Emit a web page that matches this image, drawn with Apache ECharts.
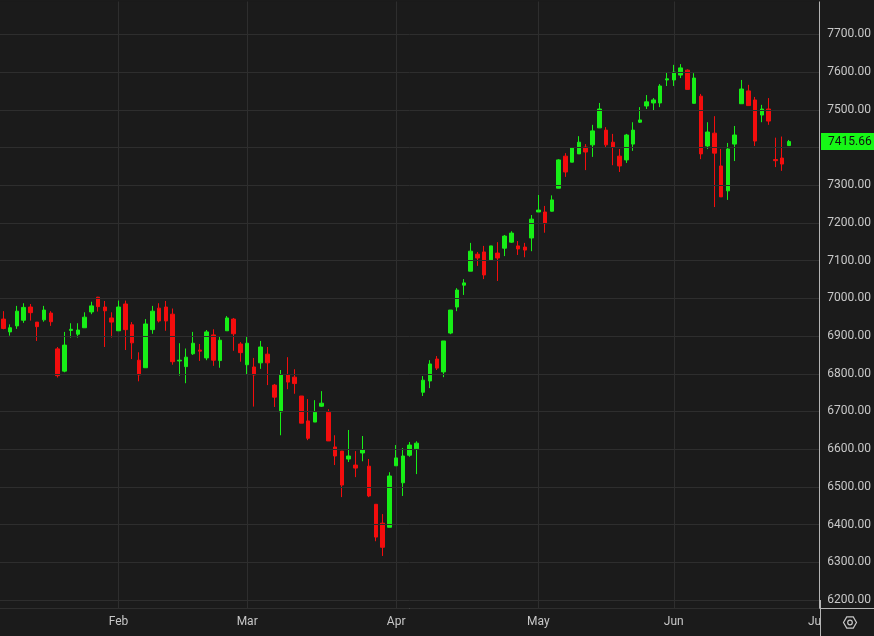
<!DOCTYPE html>
<html>
<head>
<meta charset="utf-8">
<script src="https://cdn.jsdelivr.net/npm/echarts@6/dist/echarts.min.js"></script>
<style>
  html, body { margin: 0; padding: 0; background: #1b1b1b; }
  #main { width: 874px; height: 636px; }
</style>
</head>
<body>
<div id="main"></div>
<script>
// 交易日数量（最后几个是空位）
const dayCount = 121
// 月份起始位置
const monthStart = [17, 36, 58, 79, 99, 120]
const monthNames = ['Feb', 'Mar', 'Apr', 'May', 'Jun', 'Jul']

// 开盘、收盘、最低、最高
const opens = [6945, 6911, 6927, 6942, 6977, 6937, 6943, 6961, 6866, 6807, 6915, 6905, 6922, 6964, 7003, 6977, 6948, 6914, 6985, 6930,
  6836, 6816, 6917, 6974, 6977, 6958, 6834, 6819, 6853, 6863, 6842, 6903, 6835, 6914, 6945, 6879, 6824, 6818, 6829, 6852,
  6770, 6699, 6797, 6791, 6741, 6675, 6672, 6714, 6698, 6606, 6595, 6574, 6558, 6590, 6555, 6454, 6404, 6393, 6556, 6511,
  6584, 6601, 6751, 6781, 6839, 6805, 6908, 6977, 7035, 7072, 7117, 7123, 7102, 7120, 7133, 7149, 7139, 7136, 7160, 7229,
  7229, 7231, 7292, 7377, 7361, 7383, 7401, 7407, 7452, 7446, 7414, 7377, 7367, 7409, 7467, 7510, 7518, 7518, 7579, 7579,
  7592, 7605, 7517, 7536, 7404, 7438, 7351, 7285, 7409, 7516, 7550, 7526, 7486, 7502, 7368, 7372, 7405]
const closes = [6920, 6922, 6966, 6976, 6962, 6925, 6969, 6938, 6795, 6876, 6918, 6916, 6950, 6980, 6978, 6967, 6937, 6977, 6917, 6882,
  6797, 6932, 6966, 6940, 6940, 6832, 6836, 6844, 6881, 6860, 6911, 6836, 6889, 6948, 6906, 6856, 6881, 6797, 6871, 6829,
  6738, 6797, 6778, 6774, 6669, 6629, 6698, 6722, 6622, 6582, 6505, 6582, 6550, 6598, 6476, 6367, 6340, 6529, 6577, 6582,
  6611, 6616, 6783, 6826, 6815, 6887, 6969, 7022, 7041, 7125, 7107, 7062, 7139, 7107, 7165, 7173, 7131, 7128, 7210, 7234,
  7198, 7261, 7367, 7335, 7399, 7414, 7388, 7444, 7502, 7407, 7401, 7351, 7433, 7446, 7473, 7521, 7526, 7563, 7582, 7600,
  7611, 7554, 7584, 7383, 7441, 7385, 7269, 7396, 7433, 7555, 7511, 7417, 7502, 7470, 7365, 7356, 7415.66]
const lows = [6918, 6901, 6919, 6935, 6941, 6887, 6938, 6927, 6790, 6804, 6896, 6896, 6922, 6958, 6965, 6871, 6896, 6914, 6863, 6839,
  6780, 6816, 6906, 6936, 6914, 6824, 6795, 6775, 6850, 6834, 6836, 6821, 6816, 6914, 6861, 6832, 6797, 6713, 6813, 6770,
  6712, 6637, 6759, 6747, 6669, 6624, 6672, 6712, 6622, 6558, 6473, 6566, 6526, 6568, 6473, 6356, 6317, 6393, 6556, 6476,
  6580, 6534, 6741, 6762, 6810, 6791, 6905, 6966, 7009, 7072, 7086, 7051, 7102, 7046, 7112, 7147, 7115, 7109, 7125, 7229,
  7174, 7230, 7292, 7322, 7361, 7383, 7340, 7375, 7452, 7399, 7353, 7335, 7359, 7391, 7465, 7502, 7499, 7507, 7563, 7563,
  7584, 7554, 7517, 7369, 7396, 7242, 7269, 7261, 7364, 7516, 7511, 7404, 7467, 7460, 7348, 7338, 7405]
const highs = [6966, 6931, 6980, 6987, 6985, 6937, 6980, 6966, 6871, 6911, 6934, 6934, 6963, 6991, 7004, 6993, 6963, 6994, 6994, 6937,
  6857, 6945, 6980, 6987, 6993, 6973, 6881, 6867, 6911, 6879, 6916, 6918, 6900, 6953, 6948, 6884, 6900, 6842, 6887, 6871,
  6773, 6810, 6844, 6812, 6741, 6733, 6730, 6754, 6706, 6637, 6595, 6651, 6595, 6635, 6574, 6454, 6428, 6539, 6611, 6603,
  6619, 6621, 6794, 6836, 6847, 6887, 6969, 7027, 7051, 7147, 7123, 7139, 7139, 7149, 7168, 7178, 7152, 7147, 7221, 7274,
  7245, 7273, 7369, 7385, 7401, 7430, 7409, 7460, 7518, 7454, 7436, 7396, 7436, 7467, 7507, 7539, 7531, 7568, 7600, 7619,
  7621, 7607, 7597, 7542, 7467, 7483, 7396, 7412, 7457, 7579, 7566, 7534, 7513, 7531, 7426, 7429, 7420]

const lastPrice = closes[closes.length - 1]

const upColor = '#17ee17'
const downColor = '#f30d0d'
const textColor = '#c8c8c8'
const lineColor = '#b4b4b4'
const gridColor = '#2e2e2e'
const bgColor = '#1b1b1b'

const days = Array.from({ length: dayCount }, (_, i) => i)
const isMonthStart = (index) => monthStart.indexOf(index) >= 0
// 最后一个月份贴着右边，不画竖线
const hasGridLine = (index) => isMonthStart(index) && index < dayCount - 1

const myChart = echarts.init(document.getElementById('main'))

const option = {
  backgroundColor: bgColor,
  animation: false,
  grid: {
    left: -2,
    right: 54,
    top: 0,
    bottom: 28
  },
  xAxis: {
    type: 'category',
    data: days,
    boundaryGap: true,
    axisLine: { show: true, lineStyle: { color: lineColor, width: 1 } },
    axisTick: { show: false, alignWithLabel: true },
    axisLabel: {
      interval: isMonthStart,
      formatter: (value, index) => monthNames[monthStart.indexOf(index)] || '',
      color: textColor,
      fontFamily: 'Roboto',
      fontSize: 12,
      margin: 8
    },
    splitLine: {
      show: true,
      alignWithLabel: true,
      interval: hasGridLine,
      lineStyle: { color: gridColor, width: 1 }
    }
  },
  yAxis: {
    type: 'value',
    position: 'right',
    scale: true,
    min: 6179,
    max: 7791,
    splitNumber: 16,
    z: 5,
    axisLine: { show: true, lineStyle: { color: lineColor, width: 1 } },
    axisTick: { show: false },
    axisLabel: {
      showMinLabel: false,
      showMaxLabel: false,
      formatter: (v) => v.toFixed(2),
      color: textColor,
      fontFamily: 'Roboto',
      fontSize: 12,
      margin: 8
    },
    splitLine: {
      show: true,
      lineStyle: { color: gridColor, width: 1 }
    }
  },
  series: [
    {
      type: 'candlestick',
      barWidth: 4,
      data: opens.map((o, i) => [o, closes[i], lows[i], highs[i]]),
      itemStyle: {
        color: upColor,
        color0: downColor,
        borderColor: upColor,
        borderColor0: downColor,
        borderWidth: 1
      }
    }
  ]
}

myChart.setOption(option)

// 右侧最新价标签 + 右下角图标
const py = myChart.convertToPixel({ yAxisIndex: 0 }, lastPrice)
const cx = 850, cy = 622.5, r = 6.5
const hexPoints = []
for (let k = 0; k < 6; k++) {
  const a = Math.PI / 3 * k
  hexPoints.push([cx + r * Math.cos(a), cy + r * Math.sin(a)])
}

myChart.setOption({
  graphic: [
    // 顶部边界线遮掉
    { type: 'rect', shape: { x: 0, y: 0, width: 820, height: 1.5 }, style: { fill: bgColor }, z: 50 },
    // 遮住坐标轴右下角区域
    { type: 'rect', shape: { x: 820.5, y: 609, width: 54, height: 27 }, style: { fill: bgColor }, z: 50 },
    { type: 'line', shape: { x1: 820.5, y1: 600, x2: 820.5, y2: 636 }, style: { stroke: lineColor, lineWidth: 1 }, z: 60 },
    { type: 'line', shape: { x1: 820, y1: 608.5, x2: 874, y2: 608.5 }, style: { stroke: lineColor, lineWidth: 1 }, z: 60 },
    { type: 'polygon', shape: { points: hexPoints }, style: { fill: 'none', stroke: textColor, lineWidth: 1.2 }, z: 60 },
    { type: 'circle', shape: { cx: cx, cy: cy, r: 2.3 }, style: { fill: 'none', stroke: textColor, lineWidth: 1.2 }, z: 60 },
    // 最新价
    { type: 'rect', shape: { x: 821, y: py - 8.5, width: 53, height: 17 }, style: { fill: '#16f816' }, z: 100 },
    {
      type: 'text', x: 828, y: py, z: 101,
      style: { text: lastPrice.toFixed(2), fill: '#111', font: '12px Roboto', textVerticalAlign: 'middle', verticalAlign: 'middle' }
    }
  ]
})
</script>
</body>
</html>
